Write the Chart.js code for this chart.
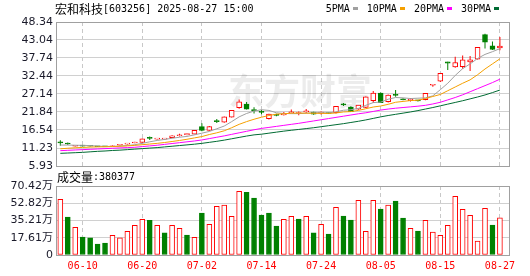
<!DOCTYPE html>
<html lang="zh-CN">
<head>
<meta charset="UTF-8">
<title>宏和科技[603256] 日K线</title>
<script src="https://cdn.jsdelivr.net/npm/chart.js@4"></script>
<style>
  html, body { margin: 0; padding: 0; background: #fff; }
  #wrap { position: relative; width: 530px; height: 276px; }
  #wrap canvas { position: absolute; left: 0; top: 0; }
</style>
</head>
<body>
<div id="wrap">
  <canvas id="kline" width="530" height="276"></canvas>
  <canvas id="vol" width="530" height="276"></canvas>
</div>
<script>
// 交易日
const dates = [
  '06-05','06-06','06-09','06-10','06-11','06-12','06-13','06-16','06-17','06-18',
  '06-19','06-20','06-23','06-24','06-25','06-26','06-27','06-30','07-01','07-02',
  '07-03','07-04','07-07','07-08','07-09','07-10','07-11','07-14','07-15','07-16',
  '07-17','07-18','07-21','07-22','07-23','07-24','07-25','07-28','07-29','07-30',
  '07-31','08-01','08-04','08-05','08-06','08-07','08-08','08-11','08-12','08-13',
  '08-14','08-15','08-18','08-19','08-20','08-21','08-22','08-25','08-26','08-27'
];
const shownDates = ['06-10','06-20','07-02','07-14','07-24','08-05','08-15','08-27'];

// K线 (开 高 低 收)
const openP = [
  12.9, 12.5, 11.75, 11.9, 11.85, 11.7, 11.65, 11.6, 12.05, 12.35,
  12.7, 12.85, 14.2, 13.85, 13.85, 14.3, 14.85, 15.15, 15.3, 17.55,
  16.4, 19.2, 18.85, 20.3, 23.1, 24.15, 22.4, 21.8, 19.9, 21.0,
  21.0, 21.6, 21.4, 21.9, 21.8, 21.5, 21.45, 21.6, 24.1, 23.3,
  22.7, 23.2, 25.2, 27.4, 24.9, 26.95, 25.6, 25.2, 25.2, 25.5,
  29.7, 30.9, 36.6, 35.1, 35.2, 36.6, 37.4, 44.6, 41.3, 40.7
];
const highP = [
  13.5, 12.85, 11.95, 11.95, 11.9, 11.75, 11.7, 11.95, 12.35, 12.6,
  13.1, 14.0, 14.6, 14.1, 14.1, 15.0, 15.4, 15.6, 16.5, 18.5,
  17.7, 19.75, 20.5, 22.4, 25.5, 24.8, 23.2, 22.4, 21.3, 21.3,
  21.8, 22.6, 22.0, 22.7, 21.9, 22.0, 21.6, 23.6, 24.5, 23.5,
  23.9, 26.4, 28.0, 27.6, 27.0, 28.3, 25.9, 25.9, 25.4, 27.4,
  29.9, 33.3, 36.6, 38.1, 38.5, 38.3, 41.0, 44.9, 42.6, 43.9
];
const lowP = [
  11.9, 12.1, 11.7, 11.7, 11.7, 11.5, 11.5, 11.5, 11.95, 12.25,
  12.6, 12.8, 13.6, 13.7, 13.75, 14.2, 14.6, 14.95, 15.25, 16.2,
  16.3, 18.6, 18.7, 20.2, 22.8, 22.6, 21.4, 21.2, 19.6, 20.6,
  20.8, 21.4, 20.9, 21.5, 21.0, 21.1, 21.3, 21.4, 23.6, 21.8,
  22.5, 23.0, 24.5, 24.5, 24.6, 26.3, 25.3, 24.9, 24.9, 25.3,
  29.3, 30.7, 34.2, 34.9, 34.6, 33.9, 37.3, 40.5, 40.1, 40.0
];
const closeP = [
  12.75, 12.4, 11.85, 11.8, 11.75, 11.6, 11.55, 11.8, 12.2, 12.45,
  12.85, 13.95, 14.05, 13.95, 13.95, 14.85, 15.0, 15.25, 16.45, 16.4,
  17.55, 19.0, 20.4, 22.3, 24.8, 22.7, 22.25, 21.7, 21.2, 20.85,
  21.35, 21.8, 21.6, 22.1, 21.2, 21.7, 21.4, 23.5, 23.95, 21.95,
  23.85, 26.3, 27.4, 24.6, 26.8, 26.75, 25.45, 25.6, 25.1, 27.3,
  29.85, 33.2, 36.2, 36.4, 37.2, 37.2, 40.9, 42.4, 40.3, 41.25
];

// 均线
const ma5 = [
  12.1, 12.1, 12.05, 12.0, 11.95, 11.8, 11.7, 11.7, 11.8, 11.95,
  12.2, 12.6, 13.05, 13.45, 13.75, 14.1, 14.4, 14.65, 15.1, 15.6,
  16.1, 16.9, 17.7, 19.0, 20.4, 21.4, 22.1, 22.5, 22.3, 21.6,
  21.4, 21.35, 21.35, 21.5, 21.6, 21.65, 21.55, 21.9, 22.35, 22.5,
  22.9, 23.8, 24.6, 24.75, 25.6, 26.1, 26.0, 25.8, 25.9, 26.0,
  26.6, 28.4, 30.3, 32.6, 34.6, 36.0, 37.6, 38.8, 39.6, 40.5
];
const ma10 = [
  11.0, 11.15, 11.3, 11.4, 11.5, 11.55, 11.6, 11.65, 11.75, 11.85,
  12.0, 12.2, 12.4, 12.6, 12.85, 13.15, 13.45, 13.8, 14.2, 14.6,
  15.2, 15.7, 16.3, 17.2, 18.2, 19.0, 19.7, 20.3, 20.8, 21.2,
  21.3, 21.5, 21.5, 21.5, 21.45, 21.45, 21.4, 21.55, 21.85, 21.95,
  22.3, 22.8, 23.3, 23.6, 24.1, 24.7, 24.95, 25.2, 25.3, 25.8,
  26.4, 27.0, 28.1, 29.2, 30.3, 31.3, 32.8, 34.5, 36.0, 37.5
];
const ma20 = [
  10.45, 10.55, 10.65, 10.75, 10.85, 10.95, 11.05, 11.15, 11.25, 11.35,
  11.45, 11.65, 11.85, 12.05, 12.3, 12.55, 12.8, 13.05, 13.3, 13.6,
  14.0, 14.4, 14.8, 15.25, 15.7, 16.15, 16.6, 17.0, 17.3, 17.6,
  17.9, 18.2, 18.5, 18.85, 19.2, 19.55, 19.9, 20.25, 20.6, 20.95,
  21.3, 21.6, 22.0, 22.4, 22.7, 22.95, 23.15, 23.35, 23.55, 23.8,
  24.2, 24.7, 25.4, 26.1, 26.9, 27.8, 28.7, 29.6, 30.5, 31.5
];
const ma30 = [
  9.66, 9.75, 9.85, 9.95, 10.1, 10.25, 10.35, 10.5, 10.6, 10.75,
  10.9, 11.05, 11.2, 11.35, 11.55, 11.75, 11.95, 12.15, 12.35, 12.6,
  12.9, 13.2, 13.55, 13.95, 14.35, 14.75, 15.1, 15.3, 15.6, 15.9,
  16.2, 16.45, 16.7, 16.95, 17.2, 17.5, 17.8, 18.1, 18.4, 18.75,
  19.1, 19.5, 19.95, 20.4, 20.8, 21.15, 21.5, 21.85, 22.25, 22.7,
  23.15, 23.65, 24.15, 24.65, 25.15, 25.7, 26.25, 26.85, 27.55, 28.3
];

// 成交量 (万股), 1 = 红
const volume = [
  56.8, 38.8, 28.3, 18.4, 17.4, 11.2, 12.2, 20.1, 17.4, 24.2,
  30.3, 36.4, 35.4, 30.3, 22.5, 30.3, 27.2, 20.4, 18.0, 42.9,
  31.3, 49.7, 51.0, 39.5, 65.0, 64.0, 58.2, 40.8, 42.9, 29.6,
  36.4, 39.5, 36.7, 39.5, 22.5, 31.3, 21.4, 48.6, 39.8, 35.7,
  55.8, 24.2, 55.8, 46.9, 51.0, 55.1, 37.8, 27.2, 24.5, 35.4,
  23.5, 20.1, 30.3, 59.9, 46.6, 40.5, 14.3, 47.6, 30.6, 38.04
];
const volUp = [
  1, 0, 1, 0, 0, 0, 0, 1, 1, 1,
  1, 1, 0, 1, 0, 1, 1, 0, 1, 0,
  1, 1, 1, 1, 1, 0, 0, 0, 0, 0,
  1, 1, 0, 1, 0, 1, 0, 1, 0, 0,
  1, 1, 1, 0, 1, 0, 0, 1, 0, 1,
  1, 1, 1, 1, 1, 1, 1, 1, 0, 1
];

// 刻度
const priceTicks = [5.93, 11.23, 16.54, 21.84, 27.14, 32.44, 37.74, 43.04, 48.34];
const priceLabels = ['5.93', '11.23', '16.54', '21.84', '27.14', '32.44', '37.74', '43.04', '48.34'];
const volTicks = [0, 17.61, 35.21, 52.82, 70.42];
const volLabels = ['0', '17.61万', '35.21万', '52.82万', '70.42万'];

const stockName = '宏和科技';
const stockInfo = '[603256] 2025-08-27 15:00';
const volTitle = '成交量';
const lastVolume = ':380377';
const maNames = ['5PMA', '10PMA', '20PMA', '30PMA'];
const maColors = ['#a0a0a0', '#f5a000', '#ff00ff', '#006b33'];

const UP = '#ff0000', DOWN = '#008000';
const idx = dates.map((d, i) => i);
const dateIdx = shownDates.map(d => dates.indexOf(d));
const isUp = idx.map(i => closeP[i] >= openP[i]);
const candleColor = isUp.map(u => u ? UP : DOWN);
const X_MIN = -0.58, X_MAX = 60.22;

const monoFont = '"DejaVu Sans Mono", monospace';
const cjkFont = '"Noto Sans CJK SC", sans-serif';

// 外框
const framePlugin = {
    id: 'frame',
    afterDraw(chart) {
        const a = chart.chartArea, ctx = chart.ctx;
        ctx.save();
        ctx.strokeStyle = '#a0a0a0';
        ctx.lineWidth = 1;
        ctx.strokeRect(Math.round(a.left) + 0.5, Math.round(a.top) + 0.5,
            Math.round(a.right - a.left), Math.round(a.bottom - a.top));
        ctx.restore();
    }
};

// 标题、均线图例、水印
const headerPlugin = {
    id: 'header',
    beforeDatasetsDraw(chart) {
        const ctx = chart.ctx;
        ctx.save();
        ctx.font = 'bold 36px ' + cjkFont;
        ctx.fillStyle = 'rgba(0,0,0,0.075)';
        ctx.textBaseline = 'middle';
        ctx.fillText('东方财富', 228, 91);
        ctx.restore();
    },
    afterDraw(chart) {
        const ctx = chart.ctx;
        ctx.save();
        ctx.textBaseline = 'middle';
        ctx.fillStyle = '#000';
        ctx.font = '12px ' + cjkFont;
        ctx.fillText(stockName, 55, 9.5);
        const w = ctx.measureText(stockName).width;
        ctx.font = '10px ' + monoFont;
        ctx.fillText(stockInfo, 55 + w, 9.5);

        let x = 325.7;
        maNames.forEach((name, k) => {
            ctx.fillStyle = '#000';
            ctx.fillText(name, x, 9.5);
            x += ctx.measureText(name).width + 3;
            ctx.fillStyle = maColors[k];
            ctx.fillRect(Math.round(x), 7, 5, 3);
            x += 5 + 9;
        });
        ctx.restore();
    }
};

const volTitlePlugin = {
    id: 'volTitle',
    afterDraw(chart) {
        const ctx = chart.ctx;
        ctx.save();
        ctx.textBaseline = 'middle';
        ctx.fillStyle = '#000';
        ctx.font = '12px ' + cjkFont;
        ctx.fillText(volTitle, 57, 177.5);
        const w = ctx.measureText(volTitle).width;
        ctx.font = '10px ' + monoFont;
        ctx.fillText(lastVolume, 57 + w, 177.5);
        ctx.restore();
    }
};

function xScale(showLabels) {
    return {
        type: 'linear', min: X_MIN, max: X_MAX, offset: false,
        afterBuildTicks: s => { s.ticks = dateIdx.map(v => ({ value: v })); },
        afterFit: s => { s.height = showLabels ? 21 : 0; },
        ticks: {
            display: showLabels, autoSkip: false, maxRotation: 0, padding: 5,
            color: '#ff0000', font: { family: monoFont, size: 10 },
            callback: v => dates[v]
        },
        grid: { color: '#c8c8c8', drawTicks: false, offset: false },
        border: { display: false, dash: [4, 3] }
    };
}

function yScale(min, max, ticks, labels) {
    return {
        min: min, max: max,
        afterBuildTicks: s => { s.ticks = ticks.map(v => ({ value: v })); },
        afterFit: s => { s.width = 56; },
        ticks: {
            autoSkip: false, padding: 3, color: '#1a1a2a',
            font: { family: '"DejaVu Sans", "Noto Sans CJK SC", sans-serif', size: 11 },
            callback: (v, i) => labels[i]
        },
        grid: { color: '#d0d0d0', drawTicks: false },
        border: { display: false }
    };
}

function maLine(values, color) {
    return {
        type: 'line',
        data: idx.map(i => ({ x: i, y: values[i] })),
        borderColor: color, borderWidth: 1,
        pointRadius: 0, fill: false, tension: 0, order: 0
    };
}

new Chart(document.getElementById('kline'), {
    type: 'bar',
    data: {
        datasets: [
            {
                data: idx.map(i => ({ x: i, y: [lowP[i], highP[i]] })),
                backgroundColor: candleColor, borderWidth: 0, inflateAmount: 0,
                barThickness: 1, minBarLength: 1, grouped: false, order: 3
            },
            {
                data: idx.map(i => ({ x: i, y: [openP[i], closeP[i]] })),
                backgroundColor: isUp.map(u => u ? '#ffffff' : DOWN),
                borderColor: candleColor, borderWidth: 1, borderSkipped: false,
                barThickness: 5, minBarLength: 1, grouped: false, order: 2
            },
            maLine(ma30, maColors[3]),
            maLine(ma20, maColors[2]),
            maLine(ma10, maColors[1]),
            maLine(ma5, maColors[0])
        ]
    },
    options: {
        responsive: false, animation: false, devicePixelRatio: 1, events: [],
        layout: { padding: { left: 0, right: 21, top: 22, bottom: 110 } },
        plugins: { legend: { display: false }, tooltip: { enabled: false } },
        scales: {
            x: xScale(false),
            y: yScale(5.93, 48.34, priceTicks, priceLabels)
        }
    },
    plugins: [headerPlugin, framePlugin]
});

new Chart(document.getElementById('vol'), {
    type: 'bar',
    data: {
        datasets: [{
            data: idx.map(i => ({ x: i, y: volume[i] })),
            backgroundColor: volUp.map(u => u ? '#ffffff' : DOWN),
            borderColor: volUp.map(u => u ? UP : DOWN),
            borderWidth: 1, borderSkipped: false,
            barThickness: 5, grouped: false
        }]
    },
    options: {
        responsive: false, animation: false, devicePixelRatio: 1, events: [],
        layout: { padding: { left: 0, right: 21, top: 186, bottom: 0 } },
        plugins: { legend: { display: false }, tooltip: { enabled: false } },
        scales: {
            x: xScale(true),
            y: yScale(0, 70.42, volTicks, volLabels)
        }
    },
    plugins: [volTitlePlugin, framePlugin]
});
</script>
</body>
</html>
